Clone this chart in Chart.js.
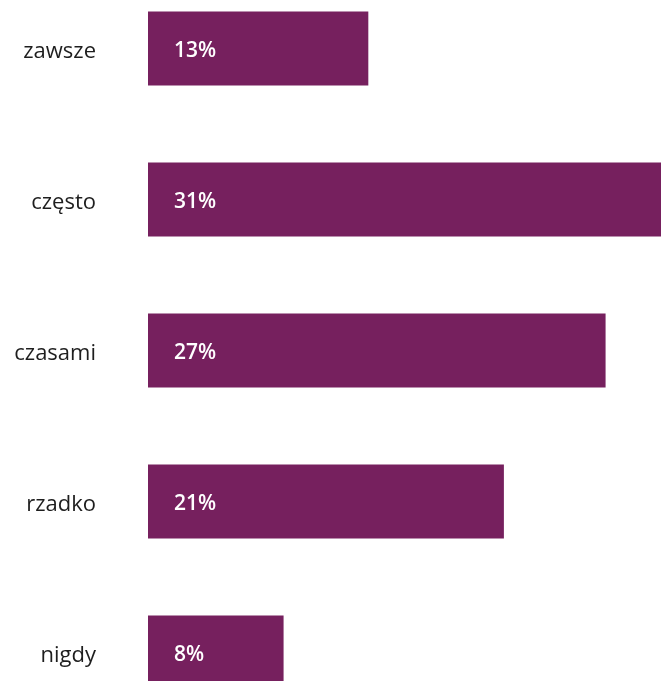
<!DOCTYPE html>
<html>
<head>
<meta charset="utf-8">
<script src="https://cdn.jsdelivr.net/npm/chart.js@4"></script>
<style>
    html, body { margin: 0; padding: 0; background: #fff; }
    #ramka { position: relative; width: 661px; height: 681px; overflow: hidden; }
    #plotno { position: absolute; left: 0; top: -27px; }
</style>
</head>
<body>
<div id="ramka">
    <canvas id="plotno" width="661" height="755"></canvas>
</div>
<script>
// Dane z wykresu
const kategorie = ['zawsze', 'często', 'czasami', 'rzadko', 'nigdy'];
const wartosci = [13, 31, 27, 21, 8];

const KOLOR = '#76205e';

// Etykiety procentowe wewnątrz słupków
const etykietyWartosci = {
    id: 'etykietyWartosci',
    afterDatasetsDraw: function(chart) {
        const ctx = chart.ctx;
        const meta = chart.getDatasetMeta(0);
        ctx.save();
        ctx.fillStyle = '#ffffff';
        ctx.font = '600 21px "Open Sans", sans-serif';
        ctx.textAlign = 'left';
        ctx.textBaseline = 'middle';
        meta.data.forEach((bar, i) => {
            ctx.fillText(wartosci[i] + '%', bar.base + 26, bar.y + 3);
        });
        ctx.restore();
    }
};

new Chart(document.getElementById('plotno').getContext('2d'), {
    type: 'bar',
    data: {
        labels: kategorie,
        datasets: [{
            data: wartosci,
            backgroundColor: KOLOR,
            borderWidth: 0,
            barPercentage: 0.49,
            categoryPercentage: 1
        }]
    },
    options: {
        indexAxis: 'y',
        responsive: false,
        animation: false,
        layout: { padding: 0 },
        plugins: {
            legend: { display: false },
            tooltip: { enabled: false }
        },
        scales: {
            x: {
                display: false,
                min: 0,
                max: 30.27
            },
            y: {
                grid: { display: false },
                border: { display: false },
                afterFit: (scale) => {
                    // stała szerokość osi, bez dodatkowego marginesu w pionie
                    scale.width = 148;
                    scale.paddingTop = 0;
                    scale.paddingBottom = 0;
                },
                ticks: {
                    padding: 44,
                    labelOffset: 3,
                    color: '#1e1e1e',
                    font: { family: '"Open Sans", sans-serif', size: 22 }
                }
            }
        }
    },
    plugins: [etykietyWartosci]
});
</script>
</body>
</html>
